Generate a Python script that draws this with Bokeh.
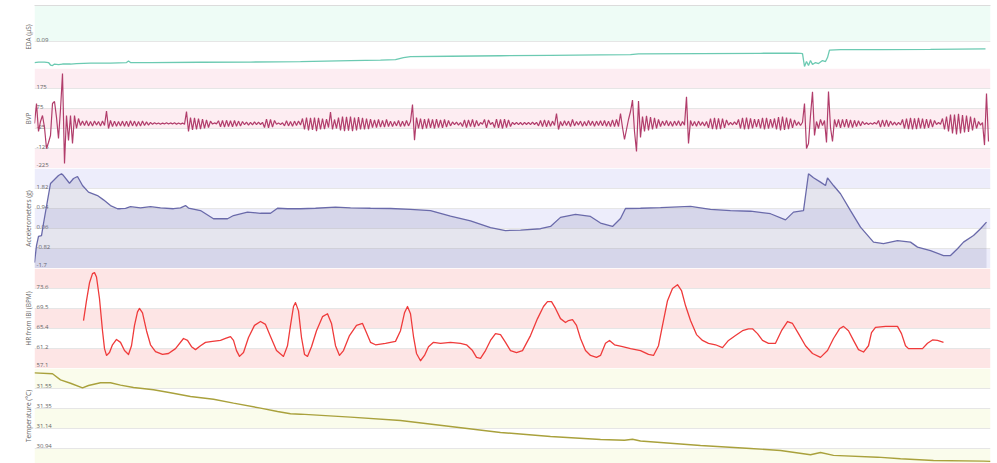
from bokeh.plotting import figure
from bokeh.layouts import column
from bokeh.models import Range1d, FixedTicker, BoxAnnotation, ColumnDataSource, LinearAxis
from bokeh.core.properties import value
from bokeh.embed import file_html
from bokeh.resources import INLINE

# ---------------- data (time axis in seconds) ----------------
T_END = 956

# EDA (µS)
eda_t = [0, 4, 10, 14, 16, 18, 20, 24, 28, 36, 42, 56, 76, 92, 94, 96, 116, 166, 216, 266,
         316, 346, 361, 369, 376, 416, 466, 516, 566, 596, 604, 666, 726, 761, 766, 768, 770, 772,
         774, 776, 778, 781, 784, 788, 791, 793, 795, 806, 846, 896, 951]
eda_v = [0.0838, 0.08395, 0.08395, 0.0838, 0.08305, 0.0829, 0.08335, 0.0832, 0.08335, 0.08335,
         0.0835, 0.08365, 0.08365, 0.0838, 0.08425, 0.0838, 0.0838, 0.08389, 0.08395, 0.0841,
         0.0844, 0.08455, 0.0847, 0.0853, 0.0856, 0.08569, 0.08584, 0.08596, 0.08611, 0.0862,
         0.08641, 0.0865, 0.08659, 0.08665, 0.08656, 0.0865, 0.0826, 0.0841, 0.0829, 0.0844,
         0.0832, 0.0838, 0.0835, 0.0844, 0.0841, 0.0853, 0.08755, 0.0877, 0.0877, 0.08776, 0.08791]
eda_ticks = [0.09, 0.101]
eda_labels = ["0.09"]

# BVP: (start time, samples every 2 s)
bvp_step = 2
bvp_chunks = [
    (0, [0, 100, -40, 10, 40, -20, -125, -95, -60, 100, 110, 30, -75, 70, 250, -200, 40, -85,
         40, -100, 40, -25, 25, -10]),
    (48, [12, -10, 14, -12, 10, -12, 12, -8, 10, -12, 12, -10]),
    (72, [62, -25]),
    (76, [15, -15, 12, -14, 10, -12]),
    (88, [12, -14, 12, -15, 14, -12, 12, -14, 10, -12, 12, -10, 8, -8, 6]),
    (118, [-4, 4, -3, 3, -4, 2, -2, 4, -3, 3, -2, 4, -4, 3, -3, 2, -4]),
    (152, [60, -40]),
    (156, [30, -32, 28, -30, 25, -28, 22, -24, 18, -20, 12]),
    (178, [-3, 3, -2]),
    (184, [14, -16, 15, -18, 16, -15, 14, -16, 15, -14, 12, -12, 10]),
    (210, [-6, 7, -8, 6, -7, 8, -6, 7, -5, 6]),
    (230, [-20, 22, -22, 20, -18, 15]),
    (242, [-4, 3, -5, 4]),
    (250, [-12, 14, -12, 10, -14, 12, -10, 12, -8]),
    (268, [25, -30, 30, -35, 28, -32, 30, -38, 28, -30, 25, -28, 22, -20]),
    (296, [57, -30]),
    (300, [20, -25, 30, -35, 35, -38, 33, -36, 35, -38, 30, -35, 32, -30, 28, -30, 25, -28, 22, -20]),
    (340, [18, -20, 20, -18, 15, -18, 20, -15, 12, -15, 10]),
    (362, [-12, 15, -15, 12, -14, 15, -12, 10]),
    (378, [95, -83]),
    (382, [30, -25, 25, -28, 22, -25, 24, -22, 20, -25, 22, -20, 18, -22, 20, -18, 15, -12]),
    (418, [8, -6, 7, -8, 5]),
    (428, [-15, 18, -20, 18, -16, 20, -18, 15, -12]),
    (446, [5, -4, 20, -22, 18, -5, 6, -20, 22]),
    (464, [-22, 20, -25, 22, -20, 18, -15]),
    (478, [6, -5, 6, -6, 5, -7, 6, -5, 6, -6, 7, -5, 6]),
    (504, [-12, 15, -15, 18, -16, 15, -14, 12, -10]),
    (522, [50, -30]),
    (526, [10, -12, 14, -10, 12, -15, 20, -12, 10, -8, 12, -14, 10, -12, 15, -10, 12, -14, 12, -10,
           14, -12, 15, -14, 12, -15, 18, -16, 20, -15]),
    (586, [50, -20, -80, -30, 20, 60, 117, -40, -140, 112, -70]),
    (608, [35, -40, 38, -35, 32, -30, 28, -25, 20, -15]),
    (628, [12, -10, 15, -12, 10, -14, 12, -10, 14, -12, 10, -8]),
    (652, [133, -100]),
    (656, [15, -12, 10, -14, 12, -10, 8, -12, 10]),
    (674, [-22, 25, -28, 28, -30, 26, -28, 24, -22, 18]),
    (694, [-8, 6, -7, 8, -6]),
    (704, [20, -25, 28, -30, 30, -28, 26, -25, 22, -18]),
    (724, [22, -25, 28, -30, 28, -26, 22, -20]),
    (740, [25, -30, 32, -35, 35, -32, 30, -28, 25, -22, 18]),
    (762, [-10, 8, -10, 6]),
    (770, [100, -125, -100, 40, 158, -60, 10, -25, 20, -10, 15, -95, 160, -20, -90, 20]),
    (802, [-18, 20, -22, 20, -18, 22, -20, 18, -20, 16, -15, 14, -12, 10]),
    (830, [-5, 4, -5, 3, -4, 5, -3]),
    (844, [15, -18, 18, -16, 18, -15, 12]),
    (858, [-8, 7, -8, 6, -7]),
    (868, [20, -25, 25, -28, 28, -30, 26, -28, 28, -25, 24, -26, 22, -22, 20, -18, 15]),
    (902, [-5, 5, -4]),
    (908, [25, -30, 35, -40, 45, -50, 45, -55, 48, -50, 42, -45, 40, -42, 35, -35, 28, -25]),
    (944, [10, -8, 5]),
    (950, [-108, 150, -90]),
]
bvp_ticks = [-225, -125, -25, 75, 175, 275]
bvp_labels = ["-225", "-125", "-25", "75", "175"]

# Accelerometers (g)
acc_t = [0, 2, 4, 7, 9, 13, 16, 19, 24, 27, 29, 35, 39, 43, 48, 54, 63, 69, 76, 83, 86, 91, 96,
         106, 116, 126, 139, 146, 151, 154, 166, 179, 193, 199, 213, 226, 236, 243, 253, 266, 281,
         301, 316, 336, 356, 376, 396, 416, 436, 456, 471, 486, 506, 516, 526, 541, 556, 566, 578,
         586, 591, 606, 626, 656, 676, 696, 716, 736, 751, 759, 769, 774, 779, 786, 791, 793, 799,
         806, 816, 826, 839, 849, 863, 876, 883, 896, 909, 916, 923, 929, 939, 946, 952]
acc_v = [-1.44, -0.69, -0.29, -0.25, 0.28, 1.29, 2.04, 2.17, 2.39, 2.47, 2.39, 2.05, 2.26, 2.35,
         1.95, 1.66, 1.51, 1.32, 1.07, 0.93, 0.93, 0.95, 1.02, 0.97, 1.02, 0.97, 0.93, 0.97, 1.07,
         0.96, 0.85, 0.49, 0.49, 0.63, 0.78, 0.73, 0.73, 0.95, 0.93, 0.93, 0.95, 1.0, 0.97, 0.95,
         0.94, 0.9, 0.85, 0.6, 0.4, 0.1, -0.03, -0.01, 0.05, 0.15, 0.55, 0.68, 0.59, 0.3, 0.15, 0.5,
         0.94, 0.95, 0.98, 1.03, 0.9, 0.85, 0.82, 0.71, 0.44, 0.78, 0.85, 2.47, 2.29, 2.1, 1.95,
         2.29, 1.95, 1.59, 0.85, 0.12, -0.54, -0.61, -0.47, -0.54, -0.76, -0.91, -1.13, -1.13,
         -0.83, -0.54, -0.25, 0.05, 0.34]
acc_ticks = [-1.7, -0.82, 0.06, 0.94, 1.82, 2.7]
acc_labels = ["-1.7", "-0.82", "0.06", "0.94", "1.82"]

# HR from IBI (BPM)
hr_t = [49, 52, 55, 58, 60, 62, 65, 68, 70, 72, 75, 78, 82, 86, 90, 94, 97, 100, 103, 105,
        108, 112, 116, 121, 128, 134, 141, 149, 153, 157, 161, 166, 171, 178, 186, 191, 196, 199,
        202, 205, 209, 214, 220, 226, 231, 236, 242, 249, 253, 256, 259, 261, 264, 267, 270, 273,
        277, 282, 288, 293, 297, 301, 305, 309, 315, 322, 328, 332, 336, 341, 351, 361, 366, 370,
        373, 376, 379, 382, 386, 390, 394, 399, 406, 416, 426, 432, 438, 442, 446, 451, 456, 461,
        466, 471, 476, 482, 488, 496, 503, 509, 513, 517, 521, 526, 531, 534, 538, 542, 546, 551,
        556, 562, 566, 571, 575, 580, 588, 596, 606, 614, 619, 624, 628, 633, 638, 643, 647, 651,
        656, 662, 668, 674, 681, 688, 694, 701, 708, 714, 718, 723, 728, 734, 741, 747, 753, 758,
        764, 771, 778, 786, 793, 799, 805, 809, 814, 819, 824, 829, 834, 837, 841, 851, 863, 867,
        871, 874, 881, 888, 893, 898, 903, 909]
hr_v = [67.0, 71.1, 74.8, 76.7, 76.9, 76.0, 71.5, 64.9, 61.2, 59.8, 60.4, 62.0, 63.1, 62.5, 60.8,
        60.0, 61.8, 66.0, 68.8, 69.5, 68.6, 64.9, 62.0, 60.6, 60.0, 60.2, 61.2, 63.3, 62.9, 61.6,
        61.0, 61.8, 62.5, 62.7, 62.9, 63.3, 63.7, 62.9, 60.8, 59.6, 60.4, 63.5, 66.0, 66.8, 66.2,
        63.7, 60.8, 59.6, 61.8, 66.0, 69.9, 70.7, 69.0, 63.5, 60.0, 59.6, 61.6, 64.9, 67.8, 68.4,
        66.4, 61.8, 59.8, 60.8, 63.9, 66.0, 66.4, 64.5, 62.5, 62.0, 62.3, 62.7, 64.9, 68.6, 69.9,
        68.4, 63.7, 60.2, 58.7, 59.8, 61.6, 62.5, 62.3, 62.5, 62.3, 62.0, 60.8, 59.4, 59.2, 60.8,
        62.9, 64.3, 64.1, 62.5, 60.8, 60.4, 60.8, 63.9, 67.4, 69.9, 70.9, 70.9, 69.5, 67.4, 66.6,
        67.0, 67.2, 66.0, 63.3, 60.8, 59.8, 59.4, 59.8, 62.3, 62.9, 62.0, 61.6, 61.2, 60.8, 60.0,
        59.8, 61.8, 66.0, 71.1, 73.6, 74.4, 73.2, 70.1, 67.0, 64.1, 62.9, 62.3, 62.0, 61.4, 62.9,
        63.9, 64.9, 65.3, 65.3, 64.3, 62.9, 62.3, 62.3, 64.9, 66.8, 66.4, 64.3, 61.8, 60.2, 59.4,
        60.8, 63.3, 65.3, 65.8, 64.9, 62.9, 61.0, 60.5, 61.8, 64.5, 65.6, 65.8, 65.8, 64.3, 61.8,
        61.2, 61.2, 61.2, 62.3, 63.0, 62.9, 62.5]
hr_ticks = [57.1, 61.23, 65.36, 69.49, 73.62, 77.75]
hr_labels = ["57.1", "61.2", "65.4", "69.5", "73.6"]

# Temperature (°C)
temp_t = [0, 18, 26, 36, 48, 54, 66, 76, 86, 99, 119, 136, 156, 179, 199, 226, 243, 256, 266, 316,
          366, 416, 466, 516, 566, 590, 598, 606, 666, 716, 746, 776, 786, 799, 843, 866, 899, 949, 956]
temp_v = [31.713, 31.703, 31.641, 31.606, 31.559, 31.583, 31.611, 31.611, 31.586, 31.562, 31.539,
          31.508, 31.470, 31.442, 31.401, 31.350, 31.316, 31.292, 31.288, 31.258, 31.223, 31.162,
          31.100, 31.059, 31.028, 31.020, 31.030, 31.012, 30.966, 30.935, 30.915, 30.871, 30.894,
          30.864, 30.846, 30.830, 30.812, 30.805, 30.803]
temp_ticks = [30.73, 30.9355, 31.141, 31.3465, 31.552, 31.7575]
temp_labels = ["30.73", "30.94", "31.14", "31.35", "31.55"]

# ---------------- build ----------------
FONT = "Open Sans"
x_range = Range1d(0, T_END)


def panel(height, y_start, y_end, ticks, labels, band_color, title, top=0):
    p = figure(width=993, height=height, x_range=x_range, y_range=Range1d(y_start, y_end),
               output_backend="svg", toolbar_location=None,
               min_border_left=34, min_border_right=3, min_border_top=top, min_border_bottom=0)
    p.xaxis.visible = False
    p.xgrid.visible = False
    p.outline_line_color = None
    p.background_fill_color = "white"
    # alternating bands
    for lo, hi in zip(ticks[0::2], ticks[1::2]):
        p.add_layout(BoxAnnotation(bottom=lo, top=hi, fill_color=band_color, fill_alpha=1.0,
                                   line_color=None, level="image"))
    p.ygrid.ticker = FixedTicker(ticks=ticks)
    p.ygrid.grid_line_color = "#e6e6e6"
    p.ygrid.grid_line_width = 1
    # axis: title only
    ax = p.yaxis[0]
    ax.ticker = FixedTicker(ticks=[])
    ax.axis_line_color = None
    ax.major_tick_line_color = None
    ax.minor_tick_line_color = None
    ax.major_tick_out = 0
    ax.major_label_standoff = 0
    ax.axis_label = title
    ax.axis_label_standoff = 2
    ax.axis_label_text_font = FONT
    ax.axis_label_text_font_size = "6.5px"
    ax.axis_label_text_font_style = "normal"
    ax.axis_label_text_color = "#666666"
    # tick labels inside the plot, just above their grid line
    lo_bound = min(y_start, y_end)
    shown = [(t, s) for t, s in zip(ticks, labels) if t >= lo_bound]
    # the label sitting on the bottom edge is lifted a little more so it stays whole
    offs = [-4 if t == lo_bound else -2 for t, _ in shown]
    src = ColumnDataSource(dict(x=[x_range.start] * len(shown), y=[t for t, _ in shown],
                                text=[s for _, s in shown], dy=offs))
    p.text(x="x", y="y", text="text", source=src, x_offset=2, y_offset="dy",
           text_font=value(FONT), text_font_size="6px", text_color="#666666",
           text_align="left", text_baseline="alphabetic")
    return p


p_eda = panel(68, 0.082, eda_ticks[-1], eda_ticks, eda_labels, "#eefcf6", "EDA (µS)", top=5)
top_line = LinearAxis(ticker=FixedTicker(ticks=[]), axis_line_color="#dcdcdc",
                      major_tick_line_color=None, minor_tick_line_color=None, major_tick_out=0)
p_eda.add_layout(top_line, "above")
p_eda.line(eda_t, eda_v, line_color="#6ccab2", line_width=1.3)

bvp_t, bvp_v = [], []
for start, vals in bvp_chunks:
    for k, v in enumerate(vals):
        bvp_t.append(start + bvp_step * k)
        bvp_v.append(v)
p_bvp = panel(100, bvp_ticks[0], bvp_ticks[-1], bvp_ticks, bvp_labels, "#fdedf2", "BVP")
p_bvp.line(bvp_t, bvp_v, line_color="#b13d6b", line_width=1.2)

p_acc = panel(100, acc_ticks[0], acc_ticks[-1], acc_ticks, acc_labels, "#ededfb", "Accelerometers (g)")
p_acc.varea(x=acc_t, y1=[acc_ticks[0]] * len(acc_t), y2=acc_v, fill_color="#5c5c94", fill_alpha=0.16)
p_acc.line(acc_t, acc_v, line_color="#6a6aaa", line_width=1.3)

p_hr = panel(100, hr_ticks[0], hr_ticks[-1], hr_ticks, hr_labels, "#fde5e5", "HR from IBI (BPM)")
p_hr.line(hr_t, hr_v, line_color="#ef3b3b", line_width=1.3, line_join="round")

p_temp = panel(95, 30.781, temp_ticks[-1], temp_ticks, temp_labels, "#fafcec", "Temperature (°C)")
p_temp.line(temp_t, temp_v, line_color="#a9a13c", line_width=1.4)

layout = column(p_eda, p_bvp, p_acc, p_hr, p_temp, spacing=0)

open("out.html", "w").write(file_html(layout, INLINE))
